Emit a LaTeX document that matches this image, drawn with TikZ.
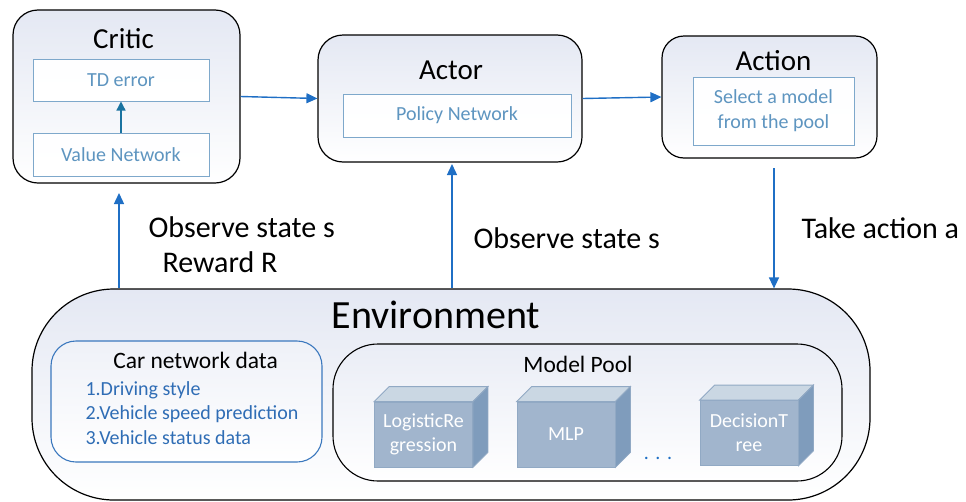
\documentclass[tikz,border=0pt]{standalone}
\usepackage{fontspec}
\setmainfont{Carlito}
\usetikzlibrary{arrows.meta,calc}
\definecolor{boxtop}{HTML}{E4E8F3}
\definecolor{innerline}{HTML}{7EA8CB}
\definecolor{innertext}{HTML}{5E95C0}
\definecolor{arrblue}{HTML}{1F6FC5}
\definecolor{teal}{HTML}{1A73A0}
\definecolor{itemblue}{HTML}{2F6DB5}
\definecolor{carline}{HTML}{3B78BE}
\definecolor{cubefront}{HTML}{A1B5CD}
\definecolor{cubetop}{HTML}{CAD7E3}
\definecolor{cubeside}{HTML}{7F9CBC}
\definecolor{cubeedge}{HTML}{91A9C4}
\tikzset{
  outerbox/.style={draw=black, line width=1.2pt, top color=boxtop, bottom color=white, rectangle},
  innerbox/.style={draw=innerline, line width=1pt, top color=white!96!boxtop, bottom color=white, rectangle, text=innertext, font=\fontsize{20}{25}\selectfont, align=center},
  title/.style={font=\fontsize{29}{34}\selectfont, anchor=base},
  lab/.style={font=\fontsize{30}{35}\selectfont, anchor=base west},
  arr/.style={draw=arrblue, line width=1.4pt, -{Triangle[length=11pt,width=10pt]}},
  cube/.style={rectangle, fill=cubefront, draw=cubeedge, line width=0.8pt, text=white, font=\fontsize{20}{24}\selectfont, align=center},
  itm/.style={font=\fontsize{20}{24}\selectfont, text=itemblue, anchor=base west},
}
\begin{document}
\begin{tikzpicture}[x=1pt,y=-1pt]
\useasboundingbox (0,0) rectangle (966,501);
% Critic
\node[outerbox, rounded corners=25pt, minimum width=227pt, minimum height=173pt] (critic) at (126.5,96.5) {};
\node[title] (critict) at (123.5,48) {Critic};
\node[innerbox, minimum width=176pt, minimum height=42pt] (td) at (121,80) {TD error};
\node[innerbox, minimum width=176pt, minimum height=43pt] (vn) at (121,154.5) {Value Network};
\draw[draw=teal, line width=1.3pt, -{Triangle[length=9pt,width=9pt]}] (vn.north) -- (td.south);
% Actor
\node[outerbox, rounded corners=25pt, minimum width=264pt, minimum height=127pt] (actor) at (450,98.5) {};
\node[title] (actort) at (451,79) {Actor};
\node[innerbox, minimum width=228pt, minimum height=43pt] (pn) at (457,115.5) {Policy Network};
% Action
\node[outerbox, rounded corners=22pt, minimum width=215pt, minimum height=122pt] (action) at (769.5,97) {};
\node[title] (actiont) at (773.5,70) {Action};
\node[innerbox, minimum width=161pt, minimum height=68pt] (sel) at (773.5,111) {Select a model\\from the pool};
% Environment
\node[outerbox, rounded corners=82pt, minimum width=838pt, minimum height=211pt] (env) at (451,394.5) {};
\node[font=\fontsize{40}{46}\selectfont, anchor=base] (envt) at (436,328) {Environment};
% Car network data
\node[rectangle, draw=carline, line width=1.1pt, rounded corners=25pt, top color=boxtop!60!white, bottom color=white, minimum width=271pt, minimum height=121pt] (car) at (186.5,401.5) {};
\node[font=\fontsize{23.5}{28}\selectfont, anchor=base] (cart) at (195.5,368) {Car network data};
\node[itm] (i1) at (82,395) {1.Driving style};
\node[itm] (i2) at (82,419) {2.Vehicle speed prediction};
\node[itm] (i3) at (82,444) {3.Vehicle status data};
% Model pool
\node[rectangle, draw=black, line width=1.1pt, rounded corners=45pt, top color=boxtop!80!white, bottom color=white, minimum width=509pt, minimum height=137pt] (pool) at (587.5,412.5) {};
\node[font=\fontsize{23.5}{28}\selectfont, anchor=base] (poolt) at (578,372) {Model Pool};
% cubes
\foreach \nm/\cx/\cy/\txt in {lr/423.5/434.5/{LogisticRe\\gression}, mlp/566/434.5/{MLP}, dt/749/433/{DecisionT\\ree}}{
  \node[cube, minimum width=98pt, minimum height=65pt] (\nm) at (\cx,\cy) {\txt};
  \fill[cubetop, draw=cubeedge, line width=0.8pt] (\nm.north west) -- ++(15,-15) -- ($(\nm.north east)+(15,-15)$) -- (\nm.north east) -- cycle;
  \fill[cubeside, draw=cubeedge, line width=0.8pt] (\nm.north east) -- ++(15,-15) -- ($(\nm.south east)+(15,-15)$) -- (\nm.south east) -- cycle;
}
\node[font=\fontsize{20}{24}\selectfont, text=arrblue, anchor=base] (dots) at (658,459) {.\,\,.\,\,.};
% arrows
\draw[arr] (critic.east) -- (actor.west);
\draw[arr] (actor.east) -- (action.west);
\coordinate (ca) at (119,193);
\draw[arr] (ca |- env.north) -- (ca);
\coordinate (aa) at (452,164);
\draw[arr] (aa |- env.north) -- (aa);
\coordinate (ta) at (774,168);
\draw[arr] (ta) -- (ta |- env.north);
% labels
\node[lab] (l1) at (145,237) {Observe state s};
\node[lab] (l2) at (159,272) {Reward R};
\node[lab] (l3) at (470,248) {Observe state s};
\node[lab] (l4) at (798,238) {Take action a};
\end{tikzpicture}
\end{document}
